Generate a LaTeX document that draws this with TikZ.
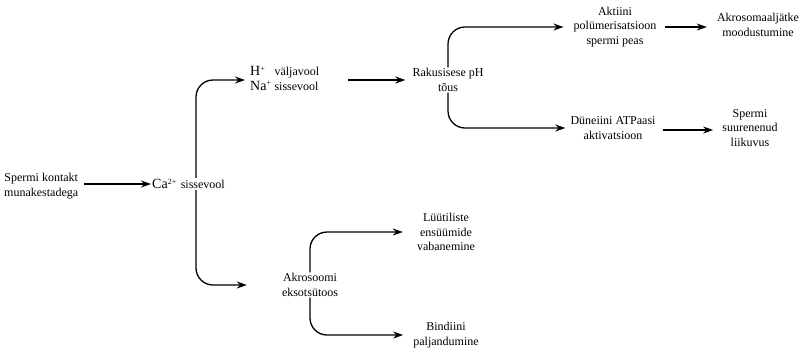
\documentclass[tikz,border=0pt]{standalone}
\usepackage{fontspec}
\setmainfont{Liberation Serif}
\usetikzlibrary{arrows.meta}
\newcommand{\bigion}[1]{{\fontsize{14}{14}\selectfont #1}}
\begin{document}
\begin{tikzpicture}[x=1pt,y=-1pt,
  lbl/.style={align=center,font=\fontsize{12}{14.5}\selectfont,inner sep=1pt},
  arr/.style={line width=1.3pt,-{Stealth[length=10pt,width=7pt]}},
  br/.style={arr,rounded corners=17pt}]
\useasboundingbox (0,0) rectangle (809,349);
\node[lbl,anchor=west] (sp) at (3,186) {Spermi kontakt\\munakestadega};
\node[lbl,anchor=west] (ca) at (151,184) {\bigion{Ca}\textsuperscript{2+}\hspace{4pt}sissevool};
\node[lbl,anchor=west] (hn) at (249,80) {\begin{tabular}{@{}l@{\hspace{3pt}}l@{}}\bigion{H}\textsuperscript{+} & väljavool\\\bigion{Na}\textsuperscript{+} & sissevool\end{tabular}};
\node[lbl] (ph) at (448,80) {Rakusisese pH\\tõus};
\node[lbl] (ak) at (615,27) {Aktiini\\polümerisatsioon\\spermi peas};
\node[lbl] (am) at (758,25) {Akrosomaaljätke\\moodustumine};
\node[lbl] (dy) at (613,128) {Düneiini ATPaasi\\aktivatsioon};
\node[lbl] (sl) at (750,128) {Spermi\\suurenenud\\liikuvus};
\node[lbl] (ae) at (310,285) {Akrosoomi\\eksotsütoos};
\node[lbl] (ly) at (446,232) {Lüütiliste\\ensüümide\\vabanemine};
\node[lbl] (bi) at (446,335) {Bindiini\\paljandumine};

\draw[arr,shorten <=5pt] (sp.east |- ca.west) -- (ca.west);
\draw[br] ([xshift=45pt]ca.north west) |- ([xshift=-4pt]hn.west);
\draw[br,shorten >=34pt] ([xshift=45pt]ca.south west) |- (ae.west);
\draw[arr,shorten <=28pt,shorten >=6pt] (hn.east) -- (hn.east -| ph.west);
\draw[br,shorten >=9pt] (ph.north) |- (ak.west);
\draw[br,shorten >=4pt] (ph.south) |- (dy.west);
\draw[arr,shorten <=7pt,shorten >=9pt] (ak.east) -- (ak.east -| am.west);
\draw[arr,shorten <=6pt,shorten >=8pt] ([yshift=-2pt]dy.east) -- ([yshift=-2pt]dy.east -| sl.west);
\draw[br,shorten >=13pt] (ae.north) |- (ly.west);
\draw[br,shorten >=9pt] (ae.south) |- (bi.west);
\end{tikzpicture}
\end{document}
